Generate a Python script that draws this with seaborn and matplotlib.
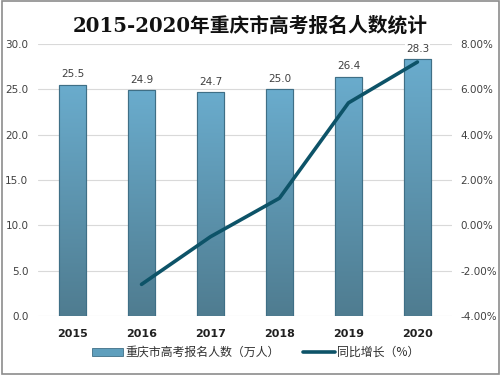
import matplotlib
matplotlib.use("Agg")
import matplotlib.pyplot as plt
import seaborn as sns
import numpy as np
import pandas as pd
from matplotlib.patches import Patch, Rectangle
from matplotlib.lines import Line2D
from matplotlib.colors import LinearSegmentedColormap

years = ["2015", "2016", "2017", "2018", "2019", "2020"]
applicants = [25.5, 24.9, 24.7, 25.0, 26.4, 28.3]
growth_years = ["2016", "2017", "2018", "2019", "2020"]
growth = [-2.6, -0.5, 1.2, 5.4, 7.2]

title = "2015-2020年重庆市高考报名人数统计"
bar_label = "重庆市高考报名人数（万人）"
line_label = "同比增长（%）"

sns.set_theme(style="white")
plt.rcParams['font.family'] = ['Noto Sans CJK SC', 'DejaVu Sans']

fig = plt.figure(figsize=(5.01, 3.75), dpi=100)
ax = fig.add_axes([0.076, 0.157, 0.826, 0.726])

df = pd.DataFrame({"year": years, "value": applicants})
sns.barplot(data=df, x="year", y="value", ax=ax, width=0.4, color="#5f9fbd",
            edgecolor="#3f6f86", linewidth=0.8, zorder=2)
ax.set_xlim(-0.5, 5.5)
ax.set_ylim(0, 30)

cmap = LinearSegmentedColormap.from_list("g", ["#4f7c90", "#6aaccd"])
grad = np.linspace(0, 1, 256).reshape(-1, 1)
for p in list(ax.patches):
    x0, y0 = p.get_x(), p.get_y()
    w, h = p.get_width(), p.get_height()
    im = ax.imshow(grad, extent=[x0, x0 + w, y0, y0 + h], origin="lower",
                   cmap=cmap, aspect="auto", zorder=2.1)
    im.set_clip_path(p)
    r = Rectangle((x0, y0), w, h, fill=False, edgecolor="#3f6f86", linewidth=0.8, zorder=2.2)
    ax.add_patch(r)
ax.set_xlim(-0.5, 5.5)
ax.set_ylim(0, 30)

for i, v in enumerate(applicants):
    ax.text(i, v + 0.6, f"{v:.1f}", ha="center", va="bottom", fontsize=7.5, color="#404040",
            family="DejaVu Sans", zorder=5,
            bbox=dict(facecolor="white", edgecolor="none", pad=0.5))

ax.set_yticks(np.arange(0, 30.1, 5))
ax.set_yticklabels([f"{v:.1f}" for v in np.arange(0, 30.1, 5)], fontsize=7.5, color="#404040",
                   family="DejaVu Sans")
ax.set_xticks(range(len(years)))
ax.set_xticklabels(years, fontsize=8, fontweight="bold", color="#202020", family="DejaVu Sans")
ax.tick_params(axis="x", length=0, pad=9)
ax.tick_params(axis="y", length=0, pad=7)
ax.yaxis.grid(True, color="#d9d9d9", linewidth=0.8, zorder=0)
ax.set_axisbelow(True)
for s in ax.spines.values():
    s.set_visible(False)
ax.set_xlabel("")
ax.set_ylabel("")

ax2 = ax.twinx()
gdf = pd.DataFrame({"pos": [years.index(y) for y in growth_years], "g": growth})
sns.lineplot(data=gdf, x="pos", y="g", ax=ax2, color="#0d5368", linewidth=2.6, zorder=6)
ax2.set_ylim(-4, 8)
ax2.set_xlim(-0.5, 5.5)
ax2.set_yticks(np.arange(-4, 8.1, 2))
ax2.set_yticklabels([f"{v:.2f}%" for v in np.arange(-4, 8.1, 2)], fontsize=7.5, color="#404040",
                    family="DejaVu Sans")
ax2.tick_params(axis="y", length=0, pad=6)
ax2.set_ylabel("")
ax2.set_xlabel("")
for s in ax2.spines.values():
    s.set_visible(False)

fig.text(0.5, 0.933, title, ha="center", va="center", fontsize=14.2, fontweight="bold", color="#111111",
         family=['DejaVu Serif', 'Noto Sans CJK SC'])

handles = [Patch(facecolor="#5f9fbd", edgecolor="#3f6f86", linewidth=0.6),
           Line2D([0], [0], color="#0d5368", linewidth=2.6)]
fig.legend(handles, [bar_label, line_label], loc="center", bbox_to_anchor=(0.51, 0.06),
           ncol=2, frameon=False, fontsize=8.6, handlelength=2.6, handletextpad=0.2,
           columnspacing=2.0, labelcolor="#303030")

fig.patches.append(Rectangle((0.003, 0.003), 0.994, 0.994, transform=fig.transFigure,
                             fill=False, edgecolor="#8c8c8c", linewidth=1.2))

fig.savefig("out.png", dpi=100)
